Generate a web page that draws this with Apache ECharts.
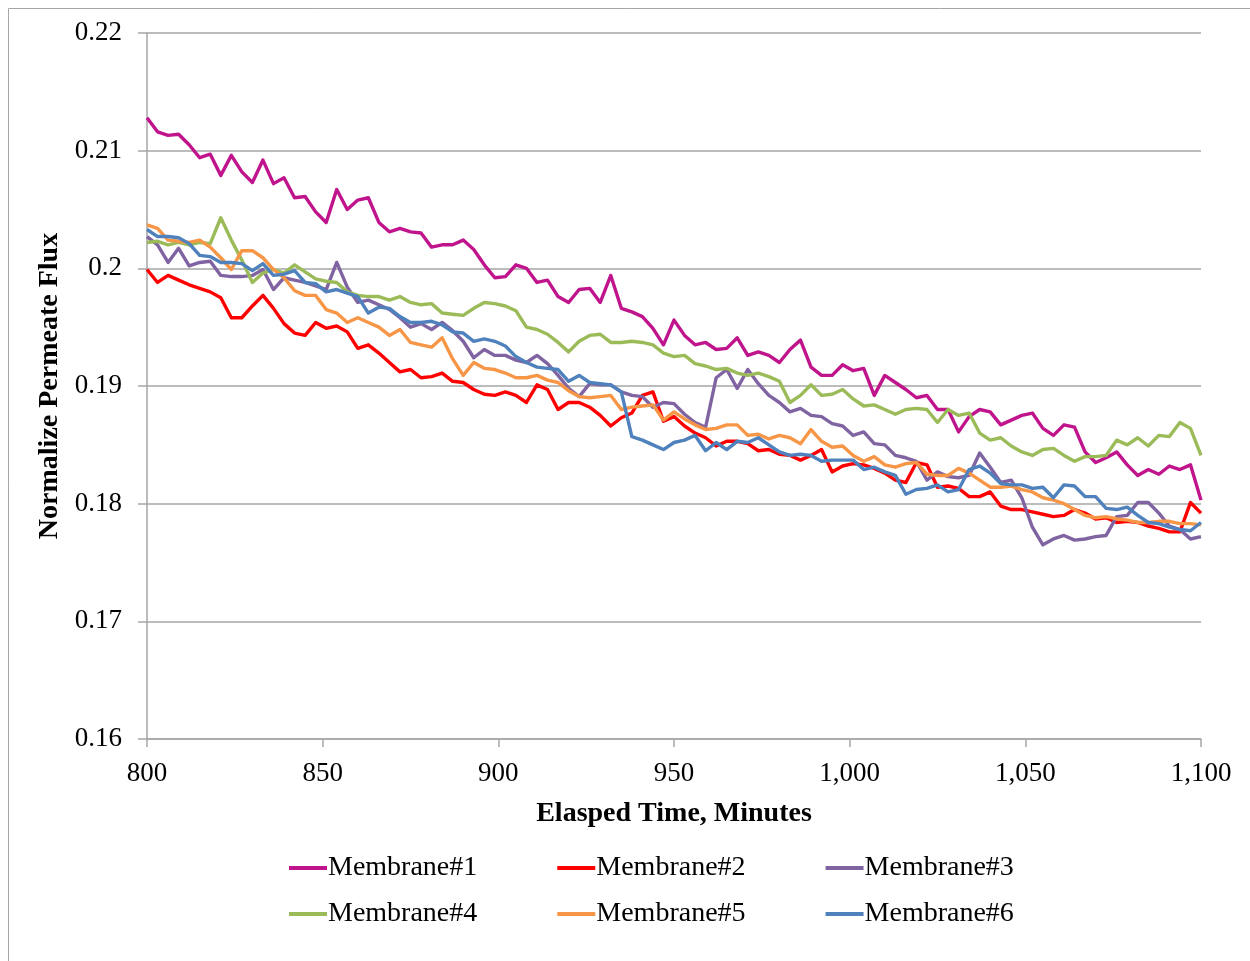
<!DOCTYPE html>
<html><head><meta charset="utf-8">
<script src="https://cdn.jsdelivr.net/npm/echarts@6/dist/echarts.min.js"></script>
<style>html,body{margin:0;padding:0;background:#fff}#c{width:1250px;height:961px}</style>
</head><body><div id="c"></div>
<script>
const times = [800,803,806,809,812,815,818,821,824,827,830,833,836,839,842,845,848,851,854,857,860,863,866,869,872,875,878,881,884,887,890,893,896,899,902,905,908,911,914,917,920,923,926,929,932,935,938,941,944,947,950,953,956,959,962,965,968,971,974,977,980,983,986,989,992,995,998,1001,1004,1007,1010,1013,1016,1019,1022,1025,1028,1031,1034,1037,1040,1043,1046,1049,1052,1055,1058,1061,1064,1067,1070,1073,1076,1079,1082,1085,1088,1091,1094,1097,1100];

const membrane1 = [0.2128,0.2116,0.2113,0.2114,0.2105,0.2094,0.2097,0.2079,0.2096,0.2082,
0.2073,0.2092,0.2072,0.2077,0.2060,0.2061,0.2048,0.2039,0.2067,0.2050,
0.2058,0.2060,0.2039,0.2031,0.2034,0.2031,0.2030,0.2018,0.2020,0.2020,
0.2024,0.2016,0.2003,0.1992,0.1993,0.2003,0.2000,0.1988,0.1990,0.1976,
0.1971,0.1982,0.1983,0.1971,0.1994,0.1966,0.1963,0.1959,0.1949,0.1935,
0.1956,0.1943,0.1935,0.1937,0.1931,0.1932,0.1941,0.1926,0.1929,0.1926,
0.1920,0.1931,0.1939,0.1916,0.1909,0.1909,0.1918,0.1913,0.1915,0.1892,
0.1909,0.1903,0.1897,0.1890,0.1892,0.1880,0.1880,0.1861,0.1874,0.1880,
0.1878,0.1867,0.1871,0.1875,0.1877,0.1864,0.1858,0.1867,0.1865,0.1844,
0.1835,0.1839,0.1844,0.1833,0.1824,0.1829,0.1825,0.1832,0.1829,0.1833,0.1803];

const membrane2 = [0.1999,0.1988,0.1994,0.1990,0.1986,0.1983,0.1980,0.1975,0.1958,0.1958,
0.1968,0.1977,0.1966,0.1953,0.1945,0.1943,0.1954,0.1949,0.1951,0.1946,
0.1932,0.1935,0.1928,0.1920,0.1912,0.1914,0.1907,0.1908,0.1911,0.1904,
0.1903,0.1897,0.1893,0.1892,0.1895,0.1892,0.1886,0.1901,0.1897,0.1880,
0.1886,0.1886,0.1882,0.1875,0.1866,0.1873,0.1877,0.1892,0.1895,0.1870,
0.1874,0.1866,0.1860,0.1856,0.1849,0.1853,0.1853,0.1851,0.1845,0.1846,
0.1842,0.1841,0.1837,0.1841,0.1846,0.1827,0.1832,0.1834,0.1833,0.1830,
0.1826,0.1820,0.1818,0.1835,0.1833,0.1814,0.1815,0.1813,0.1806,0.1806,
0.1810,0.1798,0.1795,0.1795,0.1793,0.1791,0.1789,0.1790,0.1795,0.1792,
0.1787,0.1788,0.1784,0.1785,0.1784,0.1781,0.1779,0.1776,0.1776,0.1801,0.1792];

const membrane3 = [0.2027,0.2020,0.2005,0.2017,0.2002,0.2005,0.2006,0.1994,0.1993,0.1993,
0.1994,0.1999,0.1982,0.1992,0.1990,0.1988,0.1985,0.1982,0.2005,0.1984,
0.1971,0.1973,0.1969,0.1965,0.1958,0.1950,0.1953,0.1948,0.1954,0.1947,
0.1938,0.1924,0.1931,0.1926,0.1926,0.1922,0.1920,0.1926,0.1919,0.1909,
0.1898,0.1891,0.1902,0.1901,0.1901,0.1895,0.1892,0.1891,0.1882,0.1886,
0.1885,0.1876,0.1869,0.1865,0.1907,0.1914,0.1898,0.1914,0.1902,0.1892,
0.1886,0.1878,0.1881,0.1875,0.1874,0.1868,0.1866,0.1858,0.1861,0.1851,
0.1850,0.1841,0.1839,0.1836,0.1820,0.1827,0.1823,0.1822,0.1824,0.1843,
0.1831,0.1818,0.1820,0.1805,0.1780,0.1765,0.1770,0.1773,0.1769,0.1770,
0.1772,0.1773,0.1789,0.1790,0.1801,0.1801,0.1792,0.1781,0.1778,0.1770,0.1772];

const membrane4 = [0.2022,0.2023,0.2020,0.2022,0.2020,0.2022,0.2021,0.2043,0.2024,0.2007,
0.1988,0.1996,0.1999,0.1996,0.2003,0.1997,0.1991,0.1989,0.1988,0.1980,
0.1977,0.1976,0.1976,0.1973,0.1976,0.1971,0.1969,0.1970,0.1962,0.1961,
0.1960,0.1966,0.1971,0.1970,0.1968,0.1964,0.1950,0.1948,0.1944,0.1937,
0.1929,0.1938,0.1943,0.1944,0.1937,0.1937,0.1938,0.1937,0.1935,0.1928,
0.1925,0.1926,0.1919,0.1917,0.1914,0.1915,0.1911,0.1909,0.1911,0.1908,
0.1904,0.1886,0.1892,0.1901,0.1892,0.1893,0.1897,0.1889,0.1883,0.1884,
0.1880,0.1876,0.1880,0.1881,0.1880,0.1869,0.1880,0.1875,0.1877,0.1860,
0.1854,0.1856,0.1849,0.1844,0.1841,0.1846,0.1847,0.1841,0.1836,0.1840,
0.1840,0.1841,0.1854,0.1850,0.1856,0.1849,0.1858,0.1857,0.1869,0.1864,0.1841];

const membrane5 = [0.2037,0.2034,0.2024,0.2023,0.2022,0.2024,0.2018,0.2009,0.1999,0.2015,
0.2015,0.2009,0.1999,0.1992,0.1981,0.1977,0.1977,0.1965,0.1962,0.1954,
0.1958,0.1954,0.1950,0.1943,0.1948,0.1937,0.1935,0.1933,0.1941,0.1923,
0.1909,0.1920,0.1915,0.1914,0.1911,0.1907,0.1907,0.1909,0.1905,0.1903,
0.1896,0.1891,0.1890,0.1891,0.1892,0.1880,0.1882,0.1883,0.1884,0.1871,
0.1878,0.1872,0.1867,0.1863,0.1864,0.1867,0.1867,0.1858,0.1859,0.1855,
0.1858,0.1856,0.1851,0.1863,0.1853,0.1848,0.1849,0.1841,0.1836,0.1840,
0.1833,0.1831,0.1834,0.1835,0.1825,0.1824,0.1824,0.1830,0.1826,0.1820,
0.1814,0.1814,0.1815,0.1812,0.1810,0.1805,0.1803,0.1800,0.1795,0.1790,
0.1788,0.1789,0.1787,0.1786,0.1784,0.1784,0.1785,0.1785,0.1783,0.1783,0.1782];

const membrane6 = [0.2033,0.2027,0.2027,0.2026,0.2021,0.2011,0.2010,0.2005,0.2005,0.2004,
0.1998,0.2004,0.1994,0.1995,0.1998,0.1988,0.1987,0.1980,0.1982,0.1979,
0.1976,0.1962,0.1967,0.1966,0.1959,0.1954,0.1954,0.1955,0.1952,0.1946,
0.1945,0.1938,0.1940,0.1938,0.1934,0.1925,0.1920,0.1916,0.1915,0.1914,
0.1904,0.1909,0.1903,0.1902,0.1901,0.1895,0.1857,0.1854,0.1850,0.1846,
0.1852,0.1854,0.1858,0.1845,0.1852,0.1846,0.1853,0.1852,0.1856,0.1850,
0.1844,0.1841,0.1842,0.1841,0.1836,0.1837,0.1837,0.1837,0.1829,0.1831,
0.1827,0.1824,0.1808,0.1812,0.1813,0.1816,0.1810,0.1812,0.1829,0.1832,
0.1826,0.1817,0.1816,0.1816,0.1813,0.1814,0.1805,0.1816,0.1815,0.1806,
0.1806,0.1796,0.1795,0.1797,0.1790,0.1784,0.1783,0.1780,0.1778,0.1777,0.1784];

const seriesNames = ['Membrane#1','Membrane#2','Membrane#3','Membrane#4','Membrane#5','Membrane#6'];
const seriesValues = [membrane1,membrane2,membrane3,membrane4,membrane5,membrane6];
const seriesColors = ['#C0148C','#FF0000','#8064A2','#9BBB59','#F79646','#4F81BD'];
const xTitle = 'Elasped Time, Minutes';
const yTitle = 'Normalize Permeate Flux';

const FONT = "'Liberation Serif','Times New Roman',serif";
const chart = echarts.init(document.getElementById('c'), null, {renderer:'canvas'});

function withCommas(v){
  const s = String(Math.round(v));
  return s.replace(/\B(?=(\d{3})+(?!\d))/g, ',');
}

const series = seriesNames.map((name, i) => ({
  name: name,
  type: 'line',
  data: times.map((t, j) => [t, seriesValues[i][j]]),
  showSymbol: false,
  symbol: 'none',
  lineStyle: {width: 3.4, color: seriesColors[i], join: 'round'},
  itemStyle: {color: seriesColors[i]},
  animation: false,
  z: 2 + i
}));

const legendCommon = {
  icon: 'rect',
  itemWidth: 38,
  itemHeight: 4,
  itemGap: 80,
  left: 284,
  orient: 'horizontal',
  textStyle: {fontFamily: FONT, fontSize: 28, color: '#000', padding: [0,0,0,-4]},
  selectedMode: false
};

chart.setOption({
  backgroundColor: '#fff',
  animation: false,
  graphic: [{
    type: 'rect', silent: true,
    shape: {x: 8.5, y: 8.5, width: 1300, height: 1000},
    style: {fill: null, stroke: '#A6A6A6', lineWidth: 1}
  }],
  grid: {left: 147, right: 49, top: 33, bottom: 222, containLabel: false},
  legend: [
    Object.assign({}, legendCommon, {top: 849, data: seriesNames.slice(0,3)}),
    Object.assign({}, legendCommon, {top: 895, data: seriesNames.slice(3,6)})
  ],
  xAxis: {
    type: 'value', min: 800, max: 1100, interval: 50,
    name: xTitle, nameLocation: 'middle', nameGap: 61,
    nameTextStyle: {fontFamily: FONT, fontSize: 28, fontWeight: 'bold', color: '#000'},
    axisLine: {show: true, lineStyle: {color: '#A6A6A6', width: 1.5}},
    axisTick: {show: true, length: 8, inside: false, lineStyle: {color: '#A6A6A6', width: 1.5}},
    axisLabel: {fontFamily: FONT, fontSize: 27, color: '#000', margin: 21, formatter: withCommas},
    splitLine: {show: false}
  },
  yAxis: {
    type: 'value', min: 0.16, max: 0.22, interval: 0.01,
    name: yTitle, nameLocation: 'middle', nameGap: 82, nameRotate: 90,
    nameTextStyle: {fontFamily: FONT, fontSize: 28, fontWeight: 'bold', color: '#000'},
    axisLine: {show: true, lineStyle: {color: '#A6A6A6', width: 1.5}},
    axisTick: {show: true, length: 9, inside: false, lineStyle: {color: '#A6A6A6', width: 1.5}},
    axisLabel: {fontFamily: FONT, fontSize: 27, color: '#000', margin: 25,
      formatter: v => String(parseFloat(v.toFixed(2)))},
    splitLine: {show: true, lineStyle: {color: '#A6A6A6', width: 1.5}}
  },
  series: series
});
</script></body></html>
